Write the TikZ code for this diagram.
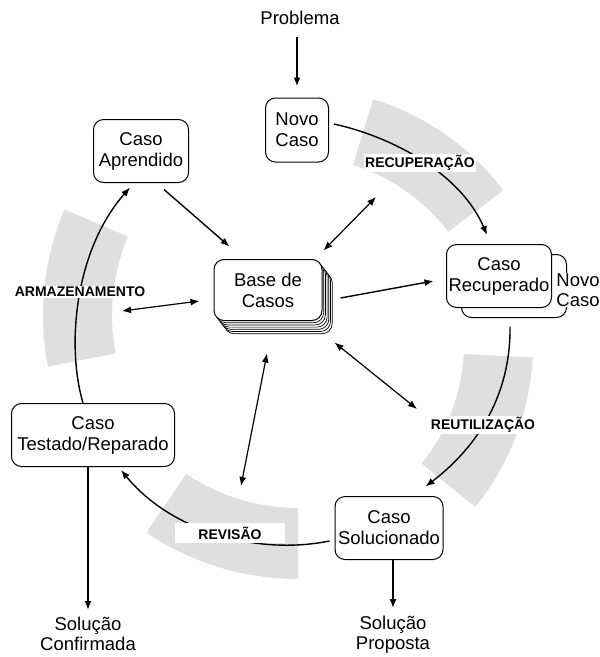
\documentclass[tikz,border=0pt]{standalone}
\usepackage{fontspec}
\setmainfont{Liberation Sans}
\usetikzlibrary{arrows.meta}
\usetikzlibrary{calc}

\begin{document}
\begin{tikzpicture}[
    x=1pt, y=-1pt,
    box/.style={draw, line width=1pt, rounded corners=10pt, fill=white, align=center, inner sep=2pt, minimum height=63pt, font=\fontsize{18.5}{21}\selectfont},
    txt/.style={align=center, inner sep=0pt, font=\fontsize{18.5}{20}\selectfont},
    phase/.style={fill=white, inner sep=1.5pt, font=\fontsize{14}{16}\selectfont\bfseries},
    band/.style={fill=gray!25},
    arrow/.style={-{Latex[length=9pt,width=7pt]}, line width=1.4pt},
    biarrow/.style={{Latex[length=9pt,width=7pt]}-{Latex[length=9pt,width=7pt]}, line width=1.2pt}
]
  \useasboundingbox (0,0) rectangle (600,657);

  % Gray bands behind the four phases
  \fill[band] ($(298,345)+(-37:257)$) arc[start angle=-37, end angle=-73, radius=257] -- ($(298,345)+(-73:188)$) arc[start angle=-73, end angle=-37, radius=188] -- cycle;
  \fill[band] ($(274,344)+(39:259)$) arc[start angle=39, end angle=3, radius=259] -- ($(274,344)+(3:190)$) arc[start angle=3, end angle=39, radius=190] -- cycle;
  \fill[band] ($(298,308)+(124:271)$) arc[start angle=124, end angle=90, radius=271] -- ($(298,308)+(90:200)$) arc[start angle=90, end angle=124, radius=200] -- cycle;
  \fill[band] ($(313,315)+(203:270)$) arc[start angle=203, end angle=169, radius=270] -- ($(313,315)+(169:201)$) arc[start angle=169, end angle=203, radius=201] -- cycle;

  % Problem and new case (TOP)
  \node[txt] (problema) at (300,18) {Problema};
  \node[box, minimum width=63pt, minimum height=64pt] (novo) at (297,130) {Novo\\Caso};

  % Learned case
  \node[box, minimum width=95pt] (aprendido) at (141,151) {Caso\\Aprendido};

  % Case base with stacked sheets
  \coordinate (basepos) at (268,290);
  \foreach \k in {6,...,1}
    \node[box, minimum width=108pt, minimum height=61pt, line width=0.7pt] at ($(basepos)+(1.7*\k,2.2*\k)$) {};
  \node[box, minimum width=108pt, minimum height=61pt] (base) at (basepos) {Base de\\Casos};

  % Retrieved case, with the new case behind it
  \node[box, minimum width=105pt] (recupback) at (514,286) {};
  \node[box, minimum width=105pt] (recup) at (499,276) {Caso\\Recuperado};
  \node[txt, fill=white, inner sep=1pt] (novocaso) at (578,290) {Novo\\Caso};

  % Tested and solved cases
  \node[box, minimum width=163pt] (testado) at (93,435) {Caso\\Testado/Reparado};
  \node[box, minimum width=108pt] (soluc) at (389,528) {Caso\\Solucionado};

  % Solutions (BOTTOM)
  \node[txt] (confirmada) at (88,634) {Solução\\Confirmada};
  \node[txt] (proposta) at (393,635) {Solução\\Proposta};

  % Free ends of the base arrows
  \coordinate (toRecup) at (376,197);
  \coordinate (toArmaz) at (122,311);
  \coordinate (toReutil) at (417,409);
  \coordinate (toRevis) at (241,486);

  % Straight arrows
  \draw[arrow, line width=2.2pt, shorten <=12pt, shorten >=11pt] (problema.south -| novo.north) -- (novo.north);
  \draw[arrow] ($(aprendido.south)+(23,6.5)$) -- ($(base.north west)+(16,-12.5)$);
  \draw[biarrow] ($(base.north east)+(1,-8.5)$) -- (toRecup);
  \draw[arrow] ($(base.east)+(18,8)$) -- ($(recup.west)+(-12.5,5)$);
  \draw[biarrow] ($(base.west)+(-14,11)$) -- (toArmaz);
  \draw[biarrow] ($(base.south east)+(12,21.5)$) -- (toReutil);
  \draw[biarrow] ($(base.south)+(-1,32.5)$) -- (toRevis);
  \draw[arrow, line width=1.8pt] (testado.south -| confirmada.north) -- ($(confirmada.north)+(0,-7)$);
  \draw[arrow, line width=1.8pt] (soluc.south -| proposta.north) -- ($(proposta.north)+(0,-8)$);

  % The cycle
  \draw[arrow] ($(novo.east)+(5,-6)$) .. controls (397,138) and (462,176) .. ($(recup.north)+(-12,-9)$);
  \draw[arrow] ($(recup.south)+(11,18.5)$) .. controls (511,392) and (480,445) .. ($(soluc.north east)+(-18,-9.5)$);
  \draw[arrow] ($(soluc.west)+(-5,13)$) .. controls (255,556) and (170,530) .. ($(testado.south)+(28,3)$);
  \draw[arrow] ($(testado.north)+(-10,0)$) .. controls (66,345) and (75,250) .. ($(aprendido.south)+(-11,4.5)$);

  % Phase labels
  \node[phase] (recuperacao) at (420,163) {RECUPERAÇÃO};
  \node[phase] (armazenamento) at (80,292) {ARMAZENAMENTO};
  \node[phase] (reutilizacao) at (483,425) {REUTILIZAÇÃO};
  \node[phase, inner xsep=23pt, inner ysep=4pt] (revisao) at (230,533) {REVISÃO};

\end{tikzpicture}
\end{document}
